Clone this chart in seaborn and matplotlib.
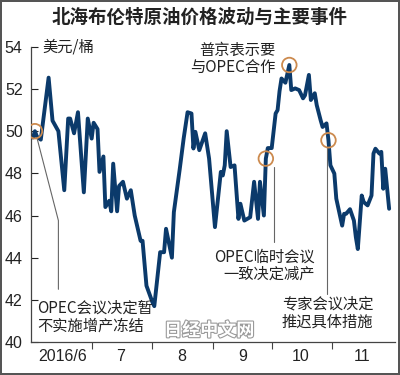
import pandas as pd
import seaborn as sns
import matplotlib.pyplot as plt
import matplotlib.patheffects as pe

# Brent price (USD per barrel)
dates = ['2016-06-01', '2016-06-02', '2016-06-03', '2016-06-05', '2016-06-09', '2016-06-11',
         '2016-06-14', '2016-06-17', '2016-06-19', '2016-06-20', '2016-06-22', '2016-06-24',
         '2016-06-27', '2016-06-29', '2016-07-01', '2016-07-02', '2016-07-04', '2016-07-05',
         '2016-07-07', '2016-07-08', '2016-07-10', '2016-07-11', '2016-07-12', '2016-07-14',
         '2016-07-15', '2016-07-17', '2016-07-19', '2016-07-21', '2016-07-23', '2016-07-26',
         '2016-07-27', '2016-07-29', '2016-08-01', '2016-08-02', '2016-08-05', '2016-08-07',
         '2016-08-08', '2016-08-11', '2016-08-12', '2016-08-15', '2016-08-17', '2016-08-19',
         '2016-08-21', '2016-08-22', '2016-08-23', '2016-08-25', '2016-08-28', '2016-08-30',
         '2016-09-02', '2016-09-05', '2016-09-06', '2016-09-07', '2016-09-08', '2016-09-10',
         '2016-09-12', '2016-09-14', '2016-09-15', '2016-09-17', '2016-09-20', '2016-09-22',
         '2016-09-24', '2016-09-25', '2016-09-27', '2016-09-28', '2016-09-29', '2016-10-01',
         '2016-10-03', '2016-10-04', '2016-10-05', '2016-10-06', '2016-10-08', '2016-10-10',
         '2016-10-11', '2016-10-13', '2016-10-15', '2016-10-17', '2016-10-18', '2016-10-20',
         '2016-10-21', '2016-10-23', '2016-10-24', '2016-10-26', '2016-10-27', '2016-10-29',
         '2016-10-30', '2016-10-31', '2016-11-02', '2016-11-03', '2016-11-06', '2016-11-07',
         '2016-11-08', '2016-11-10', '2016-11-12', '2016-11-13', '2016-11-14', '2016-11-16',
         '2016-11-17', '2016-11-19', '2016-11-21', '2016-11-22', '2016-11-23', '2016-11-25',
         '2016-11-26', '2016-11-27', '2016-11-28', '2016-11-30']
prices = [49.7, 50.0, 49.75, 49.6, 52.54, 50.5,
          50.0, 47.2, 50.6, 50.6, 49.9, 50.9,
          47.1, 50.6, 49.65, 50.4, 50.1, 48.07,
          48.8, 46.4, 46.7, 46.2, 48.46, 46.2,
          47.4, 47.6, 46.8, 47.2, 46.0, 44.8,
          44.8, 42.67, 41.9, 41.7, 44.26, 44.26,
          45.37, 44.0, 46.16, 48.2, 49.65, 50.9,
          50.84, 49.18, 49.97, 49.1, 49.9, 48.7,
          45.45, 48.07, 47.9, 48.38, 50.0, 48.3,
          48.38, 45.84, 46.56, 45.76, 45.92, 47.6,
          45.84, 47.6, 46.0, 48.7, 49.2, 49.2,
          50.84, 51.0, 51.9, 52.5, 52.3, 53.14,
          51.95, 52.03, 51.95, 51.56, 51.7, 52.67,
          51.48, 51.8, 51.24, 50.52, 50.2, 50.37,
          49.57, 48.38, 47.99, 46.8, 45.52, 46.08,
          46.08, 46.3, 45.76, 44.97, 44.41, 46.95,
          46.64, 46.48, 46.95, 48.94, 49.17, 48.94,
          49.02, 47.27, 48.22, 46.32]

event_dates = ['2016-06-02', '2016-09-28', '2016-10-10', '2016-10-30']

month_labels = ['2016/6', '7', '8', '9', '10', '11']
month_starts = ['2016-06-01', '2016-07-01', '2016-08-01', '2016-09-01', '2016-10-01', '2016-11-01']
month_mids = ['2016-06-16', '2016-07-16', '2016-08-16', '2016-09-16', '2016-10-16', '2016-11-16']

df = pd.DataFrame({'date': pd.to_datetime(dates), 'price': prices})
ev = df[df['date'].isin(pd.to_datetime(event_dates))]

sns.set_style('ticks')
plt.rcParams['font.family'] = ['Liberation Sans', 'Noto Sans CJK SC', 'DejaVu Sans']
cjk = ['Noto Sans CJK SC', 'DejaVu Sans']
ink = '#222222'

fig = plt.figure(figsize=(4, 3.75), dpi=100)
fig.patch.set_edgecolor('#555555')
fig.patch.set_linewidth(1.5)
ax = fig.add_axes([0.0775, 0.088, 0.91, 0.787])

sns.lineplot(data=df, x='date', y='price', ax=ax, color='#0b3a6b', linewidth=2.8,
             solid_joinstyle='round', solid_capstyle='round')
ax.scatter(ev['date'], ev['price'], s=110, facecolors='none', edgecolors='#cc8a4e',
           linewidths=1.3, zorder=5)

ax.set_ylim(40, 54)
ax.set_xlim(pd.Timestamp('2016-05-31'), pd.Timestamp('2016-12-03'))
ax.set_yticks(range(40, 55, 2))
ax.tick_params(axis='y', direction='in', length=5, width=0.8, labelsize=11.5, colors=ink, pad=6)
ax.set_xticks(pd.to_datetime(month_starts[1:]))
ax.set_xticklabels([])
ax.set_xticks(pd.to_datetime(month_mids), minor=True)
ax.set_xticklabels(month_labels, minor=True)
ax.tick_params(axis='x', which='major', direction='out', length=5, width=0.8, colors='#444444')
ax.tick_params(axis='x', which='minor', length=0, labelsize=11.5, labelcolor=ink, pad=5)
ax.set_xlabel('')
ax.set_ylabel('')
sns.despine(ax=ax)
for s in ['left', 'bottom']:
    ax.spines[s].set_color('#444444')
    ax.spines[s].set_linewidth(0.9)

fig.text(0.5, 0.955, '北海布伦特原油价格波动与主要事件', ha='center', va='center',
         fontsize=13.3, fontweight='bold', family=cjk, color=ink)
ax.text(pd.Timestamp('2016-06-06'), 54, '美元/桶', va='center', ha='left',
        fontsize=11, family=cjk, color=ink)

lc = '#666666'
ax.plot(pd.to_datetime(['2016-06-03', '2016-06-14', '2016-06-14']), [49.7, 45.76, 42.5],
        color=lc, linewidth=0.8)
ax.plot(pd.to_datetime(['2016-10-02', '2016-10-02']), [48.3, 44.74], color=lc, linewidth=0.8)
ax.plot([pd.Timestamp('2016-10-29 12:00')] * 2, [49.27, 42.27], color=lc, linewidth=0.8)

ax.text(pd.Timestamp('2016-06-03'), 42.0, 'OPEC会议决定暂\n不实施增产冻结', ha='left', va='top',
        fontsize=11, family=cjk, color=ink, linespacing=1.05)
ax.text(pd.Timestamp('2016-10-23'), 44.45, 'OPEC临时会议\n一致决定减产', ha='right', va='top',
        fontsize=11, family=cjk, color=ink, linespacing=1.05)
ax.text(pd.Timestamp('2016-10-29 12:00'), 42.2, '专家会议决定\n推迟具体措施', ha='center', va='top',
        fontsize=11, family=cjk, color=ink, linespacing=1.05)
ax.text(pd.Timestamp('2016-10-03'), 54.25, '普京表示要\n与OPEC合作', ha='right', va='top',
        fontsize=11, family=cjk, color=ink, linespacing=1.05, clip_on=False)

# watermark
ax.text(pd.Timestamp('2016-08-30'), 40.55, '日经中文网', ha='center', va='center', fontsize=13,
        fontweight='bold', family=cjk, color='white',
        path_effects=[pe.withStroke(linewidth=1.6, foreground='#9a9a9a')])

fig.savefig('out.png', dpi=100, edgecolor=fig.get_edgecolor())
